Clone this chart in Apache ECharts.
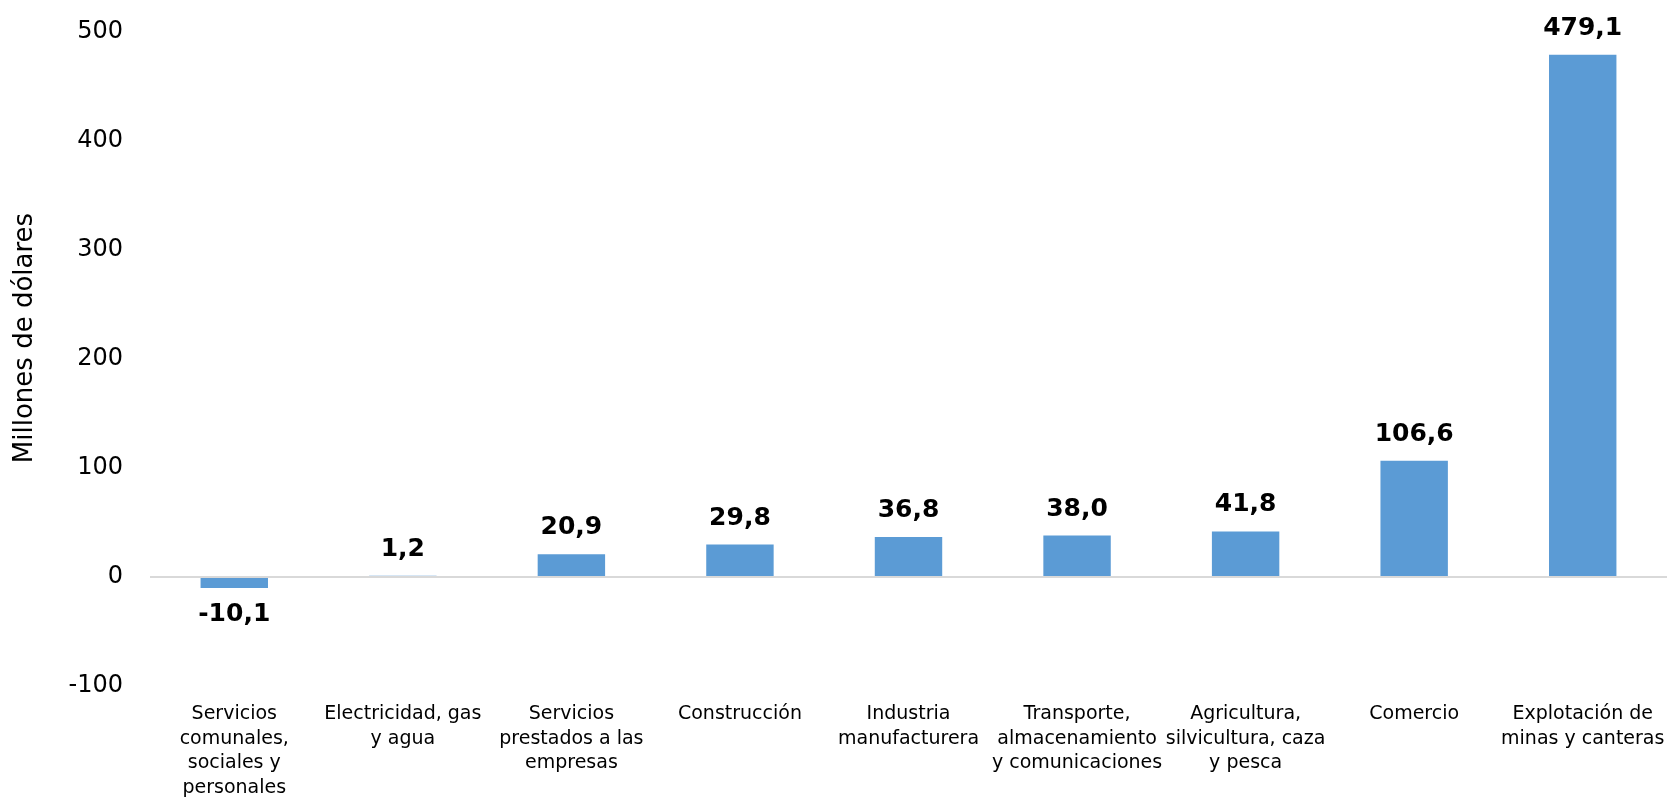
<!DOCTYPE html>
<html>
<head>
<meta charset="utf-8">
<script src="https://cdn.jsdelivr.net/npm/echarts@6/dist/echarts.min.js"></script>
<style>
html,body{margin:0;padding:0;background:#fff;}
#chart{width:1667px;height:797px;}
</style>
</head>
<body>
<div id="chart"></div>
<script>
const categories = [
  "Servicios\ncomunales,\nsociales y\npersonales",
  "Electricidad, gas\ny agua",
  "Servicios\nprestados a las\nempresas",
  "Construcción",
  "Industria\nmanufacturera",
  "Transporte,\nalmacenamiento\ny comunicaciones",
  "Agricultura,\nsilvicultura, caza\ny pesca",
  "Comercio",
  "Explotación de\nminas y canteras"
];
const values = [-10.1, 1.2, 20.9, 29.8, 36.8, 38.0, 41.8, 106.6, 479.1];
const yTicks = { min: -100, max: 500, interval: 100 };
const yTitle = "Millones de dólares";

const chart = echarts.init(document.getElementById('chart'));
chart.setOption({
  animation: false,
  backgroundColor: '#fff',
  grid: { left: 150, right: 0, top: 32, bottom: 111, containLabel: false, outerBoundsMode: 'none' },
  xAxis: {
    type: 'category',
    data: categories,
    axisLine: { show: false, onZero: false },
    axisTick: { show: false },
    axisLabel: {
      interval: 0,
      margin: 16,
      color: '#000',
      fontFamily: 'DejaVu Sans',
      fontSize: 19,
      lineHeight: 24.5
    }
  },
  yAxis: {
    type: 'value',
    min: yTicks.min, max: yTicks.max, interval: yTicks.interval,
    name: yTitle,
    nameLocation: 'middle',
    nameGap: 112,
    nameTextStyle: { color: '#000', fontFamily: 'DejaVu Sans', fontSize: 26, padding: [0,0,0,42] },
    axisLine: { show: false },
    axisTick: { show: false },
    splitLine: { show: false },
    axisLabel: { color: '#000', fontFamily: 'DejaVu Sans', fontSize: 24, margin: 27 }
  },
  series: [{
    type: 'bar',
    data: values,
    barWidth: '40%',
    itemStyle: { color: '#5b9bd5' },
    label: {
      show: true,
      position: 'outside',
      distance: 14,
      color: '#000',
      fontFamily: 'DejaVu Sans',
      fontWeight: 'bold',
      fontSize: 25,
      formatter: p => p.value.toFixed(1).replace('.', ',')
    },
    markLine: {
      silent: true,
      symbol: 'none',
      label: { show: false },
      lineStyle: { color: '#d9d9d9', width: 2, type: 'solid' },
      data: [{ yAxis: 0 }]
    }
  }]
});
</script>
</body>
</html>
